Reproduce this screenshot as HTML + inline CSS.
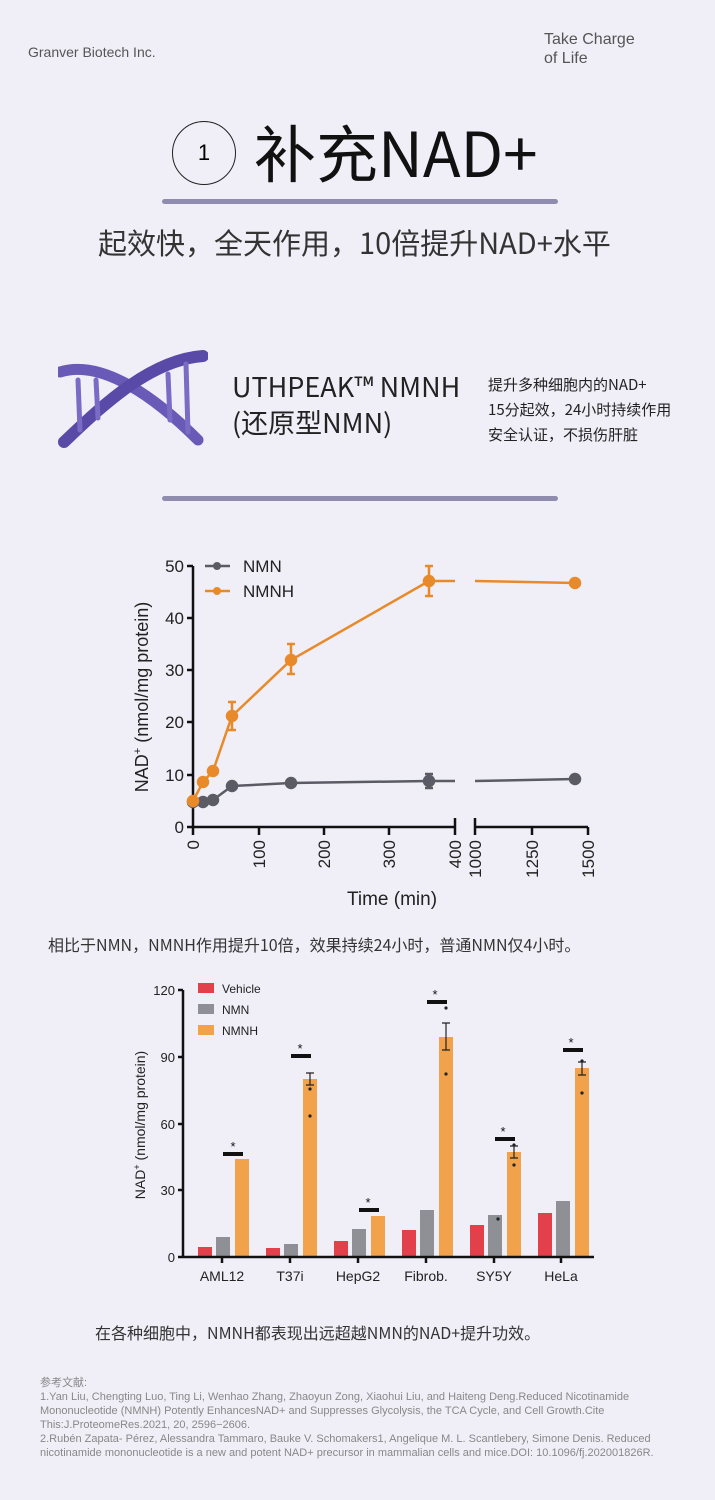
<!DOCTYPE html>
<html><head><meta charset="utf-8"><style>
body{margin:0;width:715px;height:1500px;background:#f0eff7;position:relative;overflow:hidden;font-family:"Liberation Sans","Noto Sans CJK SC",sans-serif;}
.a{position:absolute;white-space:nowrap;}
</style></head><body>
<div class="a" style="left:28px;top:44px;font-size:14px;color:#555;">Granver Biotech Inc.</div>
<div class="a" style="left:544px;top:30px;font-size:16px;line-height:19px;color:#555;">Take Charge<br>of Life</div>
<div class="a" style="left:172px;top:121px;width:62px;height:62px;border:1.5px solid #222;border-radius:50%;text-align:center;line-height:62px;font-size:22px;">1</div>
<div class="a" style="left:254px;top:110px;font-size:62px;line-height:80px;color:#111;font-family:'Noto Sans CJK SC','Liberation Sans',sans-serif;font-weight:400;">补充NAD+</div>
<div class="a" style="left:162px;top:199px;width:396px;height:5px;background:#8f8cb0;border-radius:3px;"></div>
<div class="a" style="left:98px;top:221px;font-size:29px;color:#333;font-family:'Noto Sans CJK SC',sans-serif;font-weight:400;">起效快，全天作用，10倍提升NAD+水平</div>
<svg class="a" style="left:58px;top:350px" width="150" height="100"><g stroke="#6a5ab8" fill="none" stroke-linecap="round">
<path d="M2 22 C40 10,90 40,140 90" stroke-width="11"/>
<path d="M6 92 C40 60,90 10,145 6" stroke-width="12" stroke="#5a4aa8"/>
<path d="M20 30 L22 80 M38 30 L40 68 M110 24 L112 70 M128 14 L130 82" stroke-width="5" stroke="#7a6cc4"/></g></svg>
<div class="a" style="left:232px;top:368px;font-size:27px;line-height:36px;color:#222;font-family:'Noto Sans CJK SC',sans-serif;font-weight:400;">UTHPEAK™ NMNH<br>(还原型NMN)</div>
<div class="a" style="left:488px;top:372px;font-size:15px;line-height:25px;color:#222;font-family:'Noto Sans CJK SC',sans-serif;">提升多种细胞内的NAD+<br>15分起效，24小时持续作用<br>安全认证，不损伤肝脏</div>
<div class="a" style="left:162px;top:496px;width:396px;height:5px;background:#8f8cb0;border-radius:3px;"></div>

<svg class="a" style="left:0;top:540px" width="715" height="390" font-family="Liberation Sans,sans-serif">
<g transform="translate(0,-540)">
<g stroke="#111" stroke-width="2.5" fill="none">
<path d="M193 566V827H455M193 566h-6M193 618h-6M193 670h-6M193 722h-6M193 775h-6M193 827h-6"/>
<path d="M193 827v8M259 827v8M324 827v8M389 827v8M455 818v17M475 818v17M475 827H588M532 827v8M588 827v8"/>
</g>
<g font-size="17" fill="#222" text-anchor="end"><text x="184" y="572">50</text><text x="184" y="624">40</text><text x="184" y="676">30</text><text x="184" y="728">20</text><text x="184" y="781">10</text><text x="184" y="833">0</text></g>
<g font-size="17" fill="#222" text-anchor="end">
<text transform="translate(199,840) rotate(-90)">0</text><text transform="translate(265,840) rotate(-90)">100</text><text transform="translate(330,840) rotate(-90)">200</text><text transform="translate(395,840) rotate(-90)">300</text><text transform="translate(461,840) rotate(-90)">400</text><text transform="translate(481,840) rotate(-90)">1000</text><text transform="translate(538,840) rotate(-90)">1250</text><text transform="translate(594,840) rotate(-90)">1500</text></g>
<text x="392" y="905" font-size="19" text-anchor="middle" fill="#222">Time (min)</text>
<text transform="translate(148,697) rotate(-90)" font-size="18" text-anchor="middle" fill="#222">NAD<tspan dy="-7" font-size="11">+</tspan><tspan dy="7"> (nmol/mg protein)</tspan></text>
<g stroke="#5b5b66" stroke-width="2.5" fill="#5b5b66"><path d="M193 802L203 802L213 800L232 786L291 783L429 781L455 781M475 781L575 779" fill="none"/>
<circle cx="193" cy="802" r="5"/><circle cx="203" cy="802" r="5"/><circle cx="213" cy="800" r="5"/><circle cx="232" cy="786" r="5"/><circle cx="291" cy="783" r="5"/><circle cx="429" cy="781" r="5"/><circle cx="575" cy="779" r="5"/><path d="M429 774v14M425 774h8M425 788h8"/></g>
<g stroke="#e88a2a" stroke-width="2.5" fill="#e88a2a"><path d="M193 801L203 782L213 771L232 716L291 660L429 581L455 581M475 581L575 583" fill="none"/>
<circle cx="193" cy="801" r="5"/><circle cx="203" cy="782" r="5"/><circle cx="213" cy="771" r="5"/><circle cx="232" cy="716" r="5"/><circle cx="291" cy="660" r="5"/><circle cx="429" cy="581" r="5"/><circle cx="575" cy="583" r="5"/>
<path d="M232 702v28M228 702h8M228 730h8M291 644v30M287 644h8M287 674h8M429 566v30M425 566h8M425 596h8"/></g>
<g stroke-width="2.5"><path d="M205 566h25" stroke="#5b5b66"/><circle cx="217" cy="566" r="4" fill="#5b5b66"/><path d="M205 591h25" stroke="#e88a2a"/><circle cx="217" cy="591" r="4" fill="#e88a2a"/></g>
<text x="243" y="572" font-size="17" fill="#222">NMN</text><text x="243" y="597" font-size="17" fill="#222">NMNH</text>
</g></svg>

<div class="a" style="left:48px;top:932px;font-size:16px;color:#333;font-family:'Noto Sans CJK SC',sans-serif;">相比于NMN，NMNH作用提升10倍，效果持续24小时，普通NMN仅4小时。</div>

<svg class="a" style="left:0;top:975px" width="715" height="310" font-family="Liberation Sans,sans-serif">
<g transform="translate(0,-975)">
<g fill="#e2404a"><rect x="198" y="1247" width="14" height="10"/><rect x="266" y="1248" width="14" height="9"/><rect x="334" y="1241" width="14" height="16"/><rect x="402" y="1230" width="14" height="27"/><rect x="470" y="1225" width="14" height="32"/><rect x="538" y="1213" width="14" height="44"/></g>
<g fill="#8f8f96"><rect x="216" y="1237" width="14" height="20"/><rect x="284" y="1244" width="14" height="13"/><rect x="352" y="1229" width="14" height="28"/><rect x="420" y="1210" width="14" height="47"/><rect x="488" y="1215" width="14" height="42"/><rect x="556" y="1201" width="14" height="56"/></g>
<g fill="#f2a24a"><rect x="235" y="1159" width="14" height="98"/><rect x="303" y="1079" width="14" height="178"/><rect x="371" y="1216" width="14" height="41"/><rect x="439" y="1037" width="14" height="220"/><rect x="507" y="1152" width="14" height="105"/><rect x="575" y="1068" width="14" height="189"/></g>
<g stroke="#222" stroke-width="1.2" fill="none"><path d="M310 1073v12M306 1073h8M306 1085h8M446 1023v27M442 1023h8M442 1050h8M514 1146v12M510 1146h8M510 1158h8M582 1062v13M578 1062h8M578 1075h8"/></g>
<g fill="#222"><circle cx="310" cy="1089" r="1.6"/><circle cx="310" cy="1116" r="1.6"/><circle cx="446" cy="1008" r="1.6"/><circle cx="446" cy="1074" r="1.6"/><circle cx="514" cy="1145" r="1.6"/><circle cx="514" cy="1165" r="1.6"/><circle cx="582" cy="1061" r="1.6"/><circle cx="582" cy="1093" r="1.6"/><circle cx="498" cy="1219" r="1.6"/></g>
<g stroke="#111" stroke-width="4"><path d="M223 1154h20M291 1056h20M359 1210h20M427 1002h20M495 1139h20M563 1050h20"/></g>
<g font-size="13" fill="#111" text-anchor="middle"><text x="233" y="1151">*</text><text x="300" y="1053">*</text><text x="368" y="1207">*</text><text x="435" y="999">*</text><text x="503" y="1136">*</text><text x="571" y="1047">*</text></g>
<g stroke="#111" stroke-width="2.5" fill="none"><path d="M183 990V1257H594M183 990h-5M183 1057h-5M183 1124h-5M183 1190h-5M183 1257h-5M222 1257v6M290 1257v6M358 1257v6M426 1257v6M494 1257v6M561 1257v6"/></g>
<g font-size="13" fill="#222" text-anchor="end"><text x="175" y="995">120</text><text x="175" y="1062">90</text><text x="175" y="1129">60</text><text x="175" y="1195">30</text><text x="175" y="1262">0</text></g>
<g font-size="14" fill="#222" text-anchor="middle"><text x="222" y="1281">AML12</text><text x="290" y="1281">T37i</text><text x="358" y="1281">HepG2</text><text x="426" y="1281">Fibrob.</text><text x="494" y="1281">SY5Y</text><text x="561" y="1281">HeLa</text></g>
<text transform="translate(145,1125) rotate(-90)" font-size="14" text-anchor="middle" fill="#222">NAD<tspan dy="-5" font-size="9">+</tspan><tspan dy="5"> (nmol/mg protein)</tspan></text>
<rect x="198" y="983" width="16" height="10" fill="#e2404a"/><rect x="198" y="1004" width="16" height="10" fill="#8f8f96"/><rect x="198" y="1025" width="16" height="10" fill="#f2a24a"/>
<g font-size="12" fill="#222"><text x="222" y="993">Vehicle</text><text x="222" y="1014">NMN</text><text x="222" y="1035">NMNH</text></g>
</g></svg>

<div class="a" style="left:95px;top:1320px;font-size:16px;color:#333;font-family:'Noto Sans CJK SC',sans-serif;">在各种细胞中，NMNH都表现出远超越NMN的NAD+提升功效。</div>
<div class="a" style="left:40px;top:1376px;font-size:11px;line-height:14px;color:#888;white-space:normal;width:640px;">参考文献:<br>1.Yan Liu, Chengting Luo, Ting Li, Wenhao Zhang, Zhaoyun Zong, Xiaohui Liu, and Haiteng Deng.Reduced Nicotinamide Mononucleotide (NMNH) Potently EnhancesNAD+ and Suppresses Glycolysis, the TCA Cycle, and Cell Growth.Cite This:J.ProteomeRes.2021, 20, 2596−2606.<br>2.Rubén Zapata- Pérez, Alessandra Tammaro, Bauke V. Schomakers1, Angelique M. L. Scantlebery, Simone Denis. Reduced nicotinamide mononucleotide is a new and potent NAD+ precursor in mammalian cells and mice.DOI: 10.1096/fj.202001826R.</div>
</body></html>
